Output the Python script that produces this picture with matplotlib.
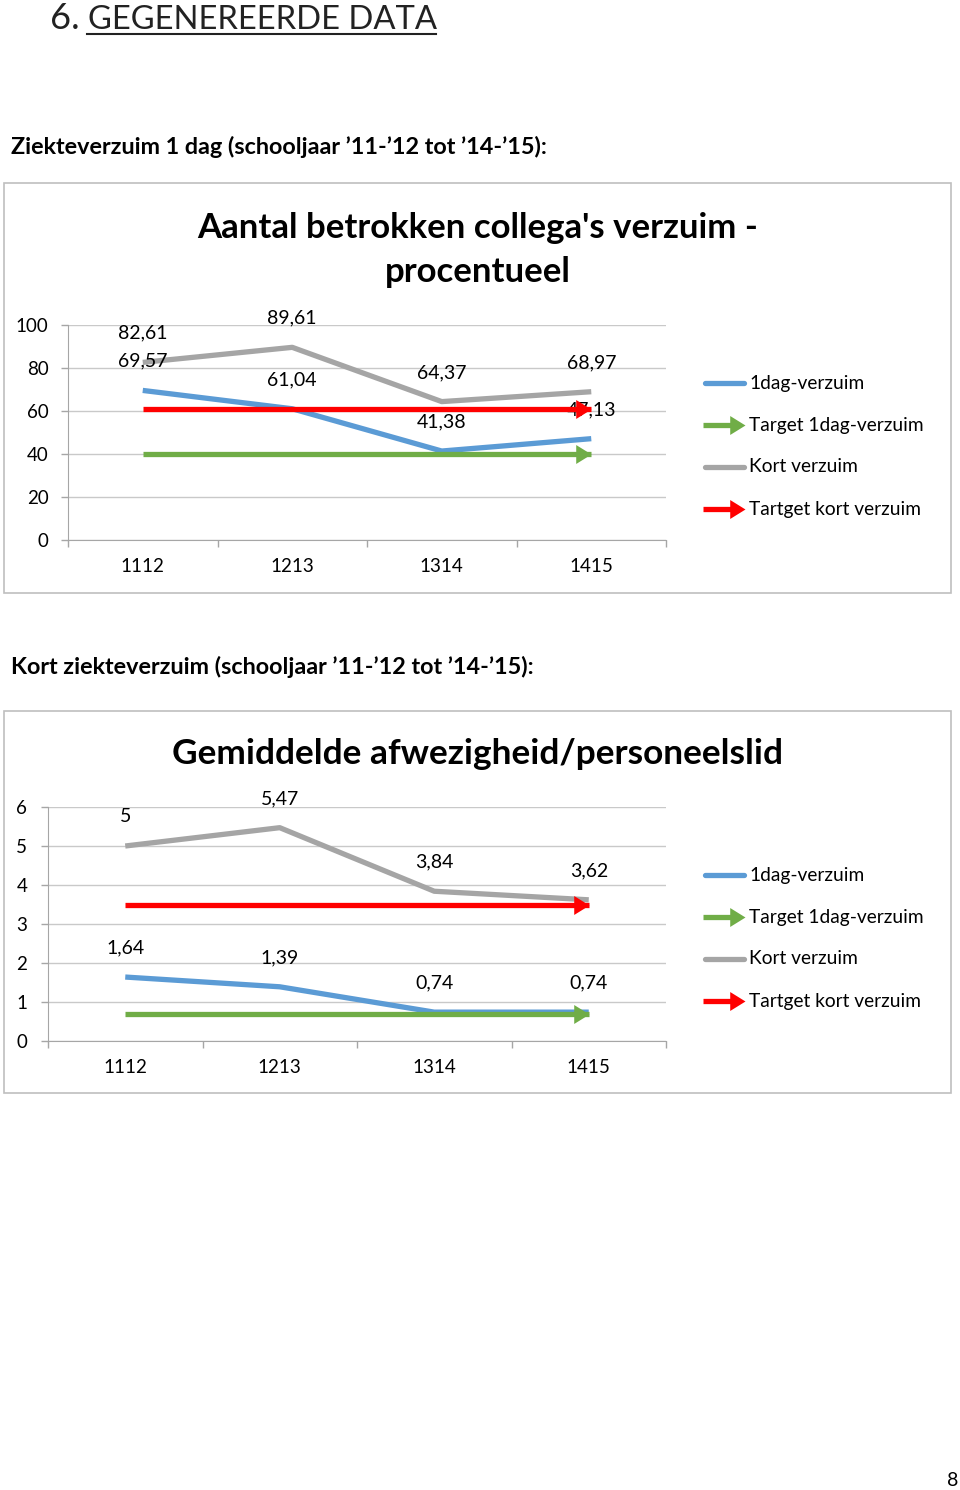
import matplotlib
matplotlib.use("Agg")
import matplotlib.pyplot as plt
from matplotlib.lines import Line2D
from matplotlib.patches import Rectangle
from matplotlib.path import Path

# ---------------- data ----------------
categories = ["1112", "1213", "1314", "1415"]
series_names = ["1dag-verzuim", "Target 1dag-verzuim", "Kort verzuim", "Tartget kort verzuim"]

pct_1dag = [69.57, 61.04, 41.38, 47.13]
pct_target_1dag = [40, 40, 40, 40]
pct_kort = [82.61, 89.61, 64.37, 68.97]
pct_target_kort = [61, 61, 61, 61]
pct_yticks = [0, 20, 40, 60, 80, 100]

avg_1dag = [1.64, 1.39, 0.74, 0.74]
avg_target_1dag = [0.7, 0.7, 0.7, 0.7]
avg_kort = [5, 5.47, 3.84, 3.62]
avg_target_kort = [3.5, 3.5, 3.5, 3.5]
avg_yticks = [0, 1, 2, 3, 4, 5, 6]

page_title_num = "6."
page_title = "GEGENEREERDE DATA"
heading1 = "Ziekteverzuim 1 dag (schooljaar \u201911-\u201912 tot \u201914-\u201915):"
heading2 = "Kort ziekteverzuim (schooljaar \u201911-\u201912 tot \u201914-\u201915):"
title1 = "Aantal betrokken collega's verzuim -\nprocentueel"
title2 = "Gemiddelde afwezigheid/personeelslid"
page_number = "8"

# ---------------- style ----------------
FONT = "Lato"
plt.rcParams["font.family"] = [FONT, "DejaVu Sans"]
BLUE = "#5B9BD5"
GREEN = "#70AD47"
GRAY = "#A5A5A5"
RED = "#FF0000"
GRID = "#C9C9C9"
AXC = "#A6A6A6"

ARROW = Path([(-1.0, -0.62), (0.0, 0.0), (-1.0, 0.62), (-1.0, -0.62)],
             [Path.MOVETO, Path.LINETO, Path.LINETO, Path.CLOSEPOLY])

W, H = 960, 1490
fig = plt.figure(figsize=(W / 100, H / 100), dpi=100)


def fx(x):
    return x / W


def fy(y):
    return 1 - y / H


def add_axes_px(x0, ytop, x1, ybot):
    return fig.add_axes([fx(x0), fy(ybot), (x1 - x0) / W, (ybot - ytop) / H])


def fmt(v):
    s = ("%.2f" % v).rstrip("0").rstrip(".")
    return s.replace(".", ",")


def frame(x0, y0, x1, y1):
    fig.add_artist(Rectangle((fx(x0), fy(y1)), (x1 - x0) / W, (y1 - y0) / H,
                             transform=fig.transFigure, fill=False,
                             edgecolor="#BFBFBF", linewidth=1.2))


def chart(ax, s1, t1, s2, t2, yticks, ylabelpad):
    x = list(range(len(categories)))
    lw = 3.8
    last = [len(x) - 1]
    ax.plot(x, s1, color=BLUE, lw=lw, solid_capstyle="butt", zorder=3)
    ax.plot(x, t1, color=GREEN, lw=lw, solid_capstyle="butt", zorder=3,
            marker=ARROW, markevery=last, markersize=22, markeredgewidth=0)
    ax.plot(x, s2, color=GRAY, lw=lw, solid_capstyle="butt", zorder=3)
    ax.plot(x, t2, color=RED, lw=lw, solid_capstyle="butt", zorder=4,
            marker=ARROW, markevery=last, markersize=22, markeredgewidth=0)
    for xi, v in zip(x, s1):
        ax.annotate(fmt(v), (xi, v), xytext=(0, 21), textcoords="offset points",
                    ha="center", va="center", fontsize=14, zorder=3)
    for xi, v in zip(x, s2):
        ax.annotate(fmt(v), (xi, v), xytext=(0, 21), textcoords="offset points",
                    ha="center", va="center", fontsize=14, zorder=3)
    ax.set_xlim(-0.5, len(x) - 0.5)
    ax.set_ylim(yticks[0], yticks[-1])
    ax.set_yticks(yticks)
    ax.set_xticks(x)
    ax.set_xticklabels(categories)
    ax.set_xticks([i - 0.5 for i in range(len(x) + 1)], minor=True)
    ax.tick_params(axis="x", which="major", length=0, pad=13, labelsize=13.5)
    ax.tick_params(axis="x", which="minor", length=5, color=AXC, width=1)
    ax.tick_params(axis="y", length=5, color=AXC, width=1, pad=ylabelpad, labelsize=13.5)
    ax.grid(axis="y", color=GRID, lw=1, zorder=0)
    for s in ("top", "right"):
        ax.spines[s].set_visible(False)
    ax.spines["left"].set_color(AXC)
    ax.spines["bottom"].set_color(AXC)
    ax.set_facecolor("none")


def legend(y_rows):
    styles = [(BLUE, False), (GREEN, True), (GRAY, False), (RED, True)]
    for (c, arrow), name, y in zip(styles, series_names, y_rows):
        if arrow:
            fig.add_artist(Line2D([fx(703), fx(738)], [fy(y), fy(y)], color=c, lw=3.8,
                                  solid_capstyle="butt", transform=fig.transFigure))
            fig.add_artist(Line2D([fx(745)], [fy(y)], color=c, marker=ARROW, markersize=22,
                                  markeredgewidth=0, transform=fig.transFigure))
        else:
            fig.add_artist(Line2D([fx(705), fx(744)], [fy(y), fy(y)], color=c, lw=3.8,
                                  solid_capstyle="round", transform=fig.transFigure))
        fig.text(fx(749), fy(y), name, ha="left", va="center", fontsize=13.8)


# ---------------- page text ----------------
fig.text(fx(50), fy(29), page_title_num, ha="left", va="baseline",
         fontsize=26, color="#222222")
fig.text(fx(88), fy(29), page_title, ha="left", va="baseline",
         fontsize=23.6, color="#222222")
fig.add_artist(Line2D([fx(87), fx(436)], [fy(34), fy(34)], color="#222222", lw=1.5,
                      transform=fig.transFigure))
fig.text(fx(11), fy(147), heading1, ha="left", va="center", fontsize=16.8, fontweight="bold")
fig.text(fx(11), fy(667), heading2, ha="left", va="center", fontsize=16.8, fontweight="bold")
fig.text(fx(953), fy(1481), page_number, ha="center", va="center", fontsize=14)

# ---------------- chart 1 ----------------
frame(4, 183, 951, 593)
fig.text(fx(478), fy(250), title1, ha="center", va="center", fontsize=25,
         fontweight="bold", linespacing=1.5)
ax1 = add_axes_px(68, 325, 666, 540)
chart(ax1, pct_1dag, pct_target_1dag, pct_kort, pct_target_kort, pct_yticks, 9)
legend([383, 425, 467, 509])

# ---------------- chart 2 ----------------
frame(4, 711, 951, 1093)
fig.text(fx(478), fy(754), title2, ha="center", va="center", fontsize=25.4, fontweight="bold")
ax2 = add_axes_px(48, 807, 666, 1041)
chart(ax2, avg_1dag, avg_target_1dag, avg_kort, avg_target_kort, avg_yticks, 10)
legend([875, 917, 959, 1001])

fig.savefig("out.png", dpi=100, facecolor="white")
